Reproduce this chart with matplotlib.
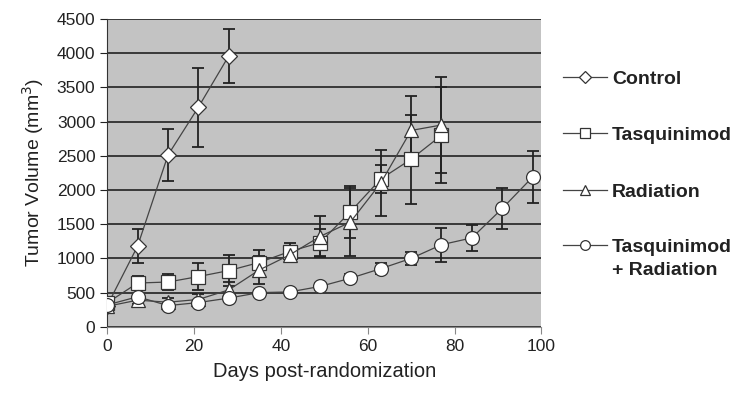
import matplotlib
matplotlib.use("Agg")
import matplotlib.pyplot as plt
from matplotlib.lines import Line2D

plt.rcParams['font.family'] = ['Liberation Sans', 'DejaVu Sans']

# Data
ctrl_days = [0, 7, 14, 21, 28]
ctrl_vals = [310, 1180, 2510, 3210, 3960]
ctrl_err = [0, 250, 380, 580, 390]

tasq_days = [0, 7, 14, 21, 28, 35, 42, 49, 56, 63, 70, 77]
tasq_vals = [350, 640, 655, 735, 822, 940, 1100, 1230, 1680, 2160, 2450, 2800]
tasq_err = [0, 100, 120, 200, 230, 190, 130, 200, 380, 200, 650, 700]

rad_days = [0, 7, 14, 21, 28, 35, 42, 49, 56, 63, 70, 77]
rad_vals = [300, 390, 360, 400, 540, 830, 1050, 1320, 1530, 2100, 2870, 2950]
rad_err = [0, 60, 60, 80, 120, 200, 100, 300, 500, 480, 500, 700]

combo_days = [0, 7, 14, 21, 28, 35, 42, 49, 56, 63, 70, 77, 84, 91, 98]
combo_vals = [320, 440, 310, 355, 420, 500, 510, 590, 710, 850, 1000, 1200, 1300, 1730, 2190]
combo_err = [0, 40, 40, 40, 40, 40, 40, 50, 60, 80, 90, 250, 190, 300, 380]

labels = ["Control", "Tasquinimod", "Radiation", "Tasquinimod\n+ Radiation"]
markers = ["D", "s", "^", "o"]
msizes = [8, 10, 10, 10]

fig = plt.figure(figsize=(7.55, 4.03), dpi=100)
ax = fig.add_axes([0.142, 0.189, 0.575, 0.764])
ax.set_facecolor("#c3c3c3")

series = [(ctrl_days, ctrl_vals, ctrl_err), (tasq_days, tasq_vals, tasq_err),
          (rad_days, rad_vals, rad_err), (combo_days, combo_vals, combo_err)]
for (d, v, e), m, ms in zip(series, markers, msizes):
    ax.errorbar(d, v, yerr=e, fmt='none', ecolor="#222222", elinewidth=1.3,
                capsize=4, capthick=1.3, zorder=3)
    ax.plot(d, v, color="#444444", lw=0.9, marker=m, markersize=ms,
            markerfacecolor="white", markeredgecolor="#333333", markeredgewidth=0.9, zorder=4)

ax.set_xlim(0, 100)
ax.set_ylim(0, 4500)
ax.set_xticks(range(0, 101, 20))
ax.set_yticks(range(0, 4501, 500))
ax.yaxis.grid(True, color="#222222", lw=1.2)
ax.set_axisbelow(True)
for s in ["top", "right"]:
    ax.spines[s].set_visible(False)
ax.spines["left"].set_color("#333333")
ax.spines["bottom"].set_color("#888888")
ax.tick_params(axis='both', labelsize=12.5, colors="#222222", length=5, direction='out')
ax.tick_params(axis='x', colors="#888888", labelcolor="#222222")

ax.set_xlabel("Days post-randomization", fontsize=14.5, color="#222222", labelpad=6)
ax.set_ylabel("Tumor Volume (mm$^3$)", fontsize=14, color="#222222", labelpad=8)

# Manual legend (figure pixel coordinates -> fraction)
W, H = 755.0, 403.0
leg_y = [77, 133, 190, 245]
for lab, m, yy in zip(labels, markers, leg_y):
    fy = 1 - yy / H
    fig.add_artist(Line2D([563 / W, 607 / W], [fy, fy], color="#444444", lw=0.9))
    fig.add_artist(Line2D([585 / W], [fy], marker=m, markersize=7 if m != "D" else 6,
                          markerfacecolor="white", markeredgecolor="#333333",
                          markeredgewidth=0.9, linestyle='none'))
    for i, line in enumerate(lab.split("\n")):
        fig.text(612 / W, 1 - (yy + 7 + 23 * i) / H, line, fontsize=14, fontweight='bold',
                 color="#222222", va='baseline', ha='left')

fig.savefig("out.png", dpi=100)
